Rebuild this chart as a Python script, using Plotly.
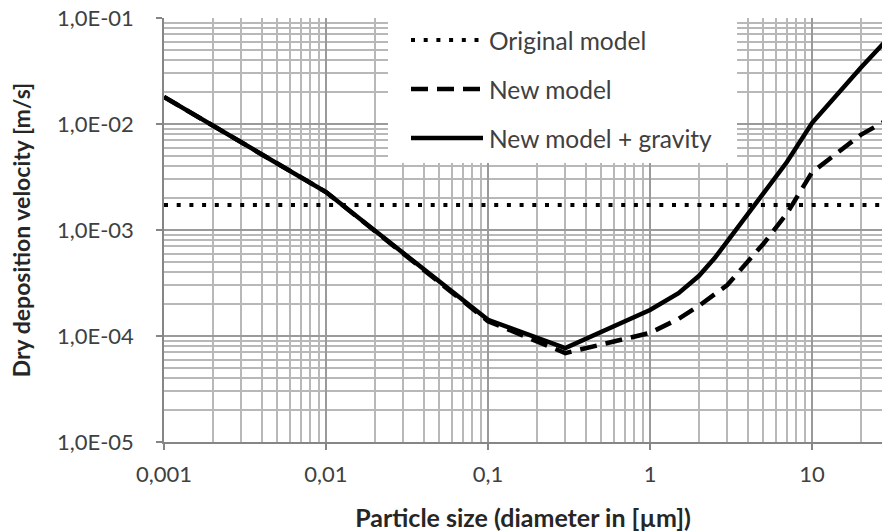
import plotly.graph_objects as go

# ---------------- data ----------------
x_orig = [0.001, 30]
v_orig = [1.72e-3, 1.72e-3]

x_size = [0.001, 0.01, 0.1, 0.3, 1, 1.5, 2, 2.5, 3, 5, 7, 10, 20, 30]
v_new = [1.80e-2, 2.28e-3, 1.38e-4, 6.9e-5, 1.07e-4, 1.45e-4, 1.92e-4, 2.44e-4, 3.03e-4,
         7.38e-4, 1.43e-3, 3.5e-3, 7.9e-3, 1.12e-2]
v_grav = [1.80e-2, 2.28e-3, 1.42e-4, 7.7e-5, 1.76e-4, 2.53e-4, 3.68e-4, 5.4e-4, 7.8e-4,
          2.2e-3, 4.38e-3, 1.02e-2, 3.4e-2, 6.6e-2]

series_names = ["Original model", "New model", "New model + gravity"]

x_tickvals = [0.001, 0.01, 0.1, 1, 10]
x_ticktext = ["0,001", "0,01", "0,1", "1", "10"]
y_tickvals = [1e-5, 1e-4, 1e-3, 1e-2, 1e-1]
y_ticktext = ["1,0E-05", "1,0E-04", "1,0E-03", "1,0E-02", "1,0E-01"]

x_minor = [m * 10.0 ** e for e in range(-3, 2) for m in range(2, 10)]
y_minor = [m * 10.0 ** e for e in range(-5, -1) for m in range(2, 10)]

# ---------------- style ----------------
W, H = 882, 532
L, R, T, B = 164, 0, 18, 90
PW, PH = W - L - R, H - T - B
X_DECADE = 162.0
x_range = [-3, -3 + PW / X_DECADE]

FONT = "Lato"
TXT = "#404040"
DOT = "4px,8.7px"
DASH = "17px,9px"

def px_x(p):
    return (p - L) / PW

def px_y(p):
    return (H - B - p) / PH

fig = go.Figure()
fig.add_trace(go.Scatter(x=x_orig, y=v_orig, mode="lines", name=series_names[0],
                         line=dict(color="black", width=4, dash=DOT), showlegend=False))
fig.add_trace(go.Scatter(x=x_size, y=v_new, mode="lines", name=series_names[1],
                         line=dict(color="black", width=4.5, dash=DASH), showlegend=False))
fig.add_trace(go.Scatter(x=x_size, y=v_grav, mode="lines", name=series_names[2],
                         line=dict(color="black", width=4.5), showlegend=False))

# legend (white box over the grid, sample lines and labels)
shapes = [dict(type="rect", xref="paper", yref="paper",
               x0=px_x(388), x1=px_x(737), y0=px_y(163), y1=px_y(14),
               fillcolor="white", line=dict(width=0), layer="above")]
annotations = []
rows_y = [40, 89, 138]
styles = [dict(width=4, dash=DOT), dict(width=4.5, dash=DASH), dict(width=4.5, dash="solid")]
for name, yy, st in zip(series_names, rows_y, styles):
    shapes.append(dict(type="line", xref="paper", yref="paper",
                       x0=px_x(411), x1=px_x(483), y0=px_y(yy), y1=px_y(yy),
                       line=dict(color="black", **st), layer="above"))
    annotations.append(dict(xref="paper", yref="paper", x=px_x(487), y=px_y(yy),
                            text=name, showarrow=False, xanchor="left", yanchor="middle",
                            font=dict(family=FONT, size=24.5, color=TXT)))

fig.update_layout(
    width=W, height=H,
    margin=dict(l=L, r=R, t=T, b=B, autoexpand=False),
    paper_bgcolor="white", plot_bgcolor="white",
    shapes=shapes, annotations=annotations,
    showlegend=False,
    font=dict(family=FONT, color=TXT),
)

fig.update_xaxes(
    type="log", range=x_range, tickmode="array",
    tickvals=x_tickvals, ticktext=x_ticktext,
    ticks="outside", ticklen=6, tickcolor="#868686", tickwidth=1.5,
    showline=True, linecolor="#868686", linewidth=1.5,
    showgrid=True, gridcolor="#9a9a9a", gridwidth=1.8,
    minor=dict(tickmode="array", tickvals=x_minor, showgrid=True,
               gridcolor="#b8b8b8", gridwidth=1.6, ticks=""),
    tickfont=dict(family=FONT, size=22, color=TXT), ticklabelstandoff=6,
    title=dict(text="<b>Particle size (diameter in [µm])</b>",
               font=dict(family=FONT, size=25, color="#262626"), standoff=26),
    zeroline=False, automargin=False,
)
fig.update_yaxes(
    type="log", range=[-5, -1], tickmode="array",
    tickvals=y_tickvals, ticktext=y_ticktext,
    ticks="outside", ticklen=6, tickcolor="#868686", tickwidth=1.5,
    showline=True, linecolor="#868686", linewidth=1.5,
    showgrid=True, gridcolor="#9a9a9a", gridwidth=1.8,
    minor=dict(tickmode="array", tickvals=y_minor, showgrid=True,
               gridcolor="#b8b8b8", gridwidth=1.6, ticks=""),
    tickfont=dict(family=FONT, size=22, color=TXT), ticklabelstandoff=18,
    title=dict(text="<b>Dry deposition velocity [m/s]</b>",
               font=dict(family=FONT, size=23, color="#262626"), standoff=20),
    zeroline=False, automargin=False,
)

fig.write_html("out.html")
